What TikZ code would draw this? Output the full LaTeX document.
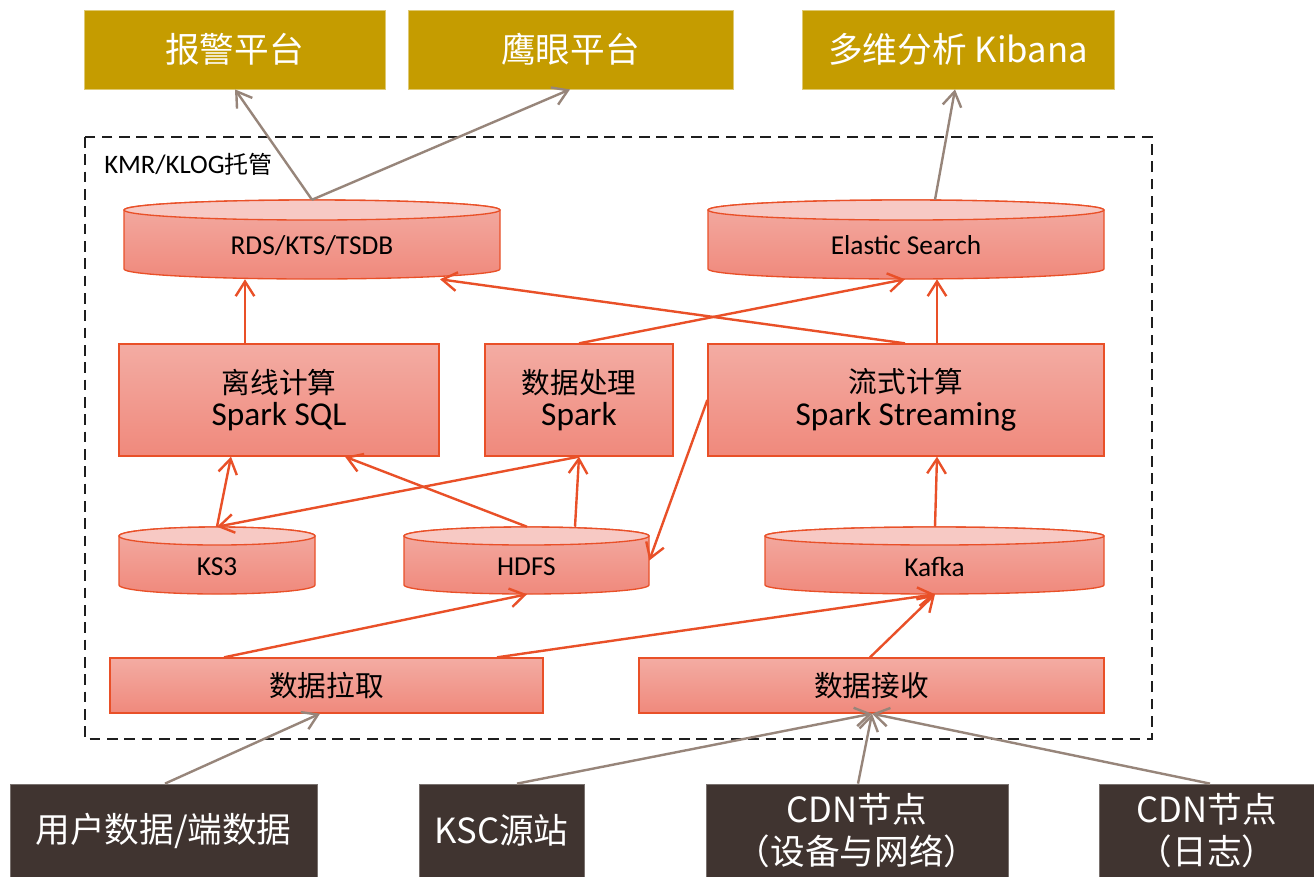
\documentclass[tikz,border=0pt]{standalone}
\usepackage{fontspec}
\setmainfont{Carlito}
\newfontfamily\cjk{Noto Sans CJK SC}
\usetikzlibrary{arrows.meta}
\definecolor{gold}{RGB}{197,156,0}
\definecolor{darkb}{RGB}{64,52,48}
\definecolor{redl}{RGB}{233,80,40}
\definecolor{grayl}{RGB}{151,133,122}
\definecolor{fillA}{RGB}{243,172,163}
\definecolor{fillB}{RGB}{240,137,124}
\definecolor{topface}{RGB}{247,201,196}
\definecolor{dashc}{RGB}{30,30,30}
\newcommand\cjkm{\cjk\fontsize{21.5}{24.5}\selectfont}
\newcommand\placebox[7]{%
  \pgfmathsetmacro\bw{(#5-#3)*0.75}%
  \pgfmathsetmacro\bh{(#6-#4)*0.75}%
  \pgfmathsetmacro\bcx{(#3+#5)/2}%
  \pgfmathsetmacro\bcy{(#4+#6)/2}%
  \node[#1, minimum width=\bw pt, minimum height=\bh pt] (#2) at (\bcx,\bcy) {#7};%
}
\newcommand\dbcyl[7]{%
  \pgfmathsetmacro\crx{(#4-#2)/2*0.75}%
  \pgfmathsetmacro\cry{#6*0.75}%
  \pgfmathsetmacro\ccx{(#2+#4)/2}%
  \pgfmathsetmacro\cyt{#3+#6}%
  \pgfmathsetmacro\cyb{#5-#6}%
  \pgfmathsetmacro\cw{(#4-#2)*0.75}%
  \pgfmathsetmacro\ch{(#5-#3)*0.75}%
  \pgfmathsetmacro\cmy{(#3+#5)/2}%
  \path[cylbody] (#2,\cyt) -- (#2,\cyb) arc[start angle=180,end angle=360,x radius=\crx pt,y radius=\cry pt] -- (#4,\cyt) arc[start angle=0,end angle=180,x radius=\crx pt,y radius=\cry pt] -- cycle;
  \path[cyltop] (\ccx,\cyt) ellipse[x radius=\crx pt,y radius=\cry pt];
  \node[inner sep=0, minimum width=\cw pt, minimum height=\ch pt] (#1) at (\ccx,\cmy) {};
  \node[cyllabel] (#1-l) at (\ccx,\cmy+6) {#7};
}
\tikzset{
  goldbox/.style={rectangle, fill=gold, draw=gold!55!white, line width=0.6pt, inner sep=0, text=white, align=center, font=\cjk\fontsize{26}{30}\selectfont},
  darkbox/.style={rectangle, fill=darkb, draw=darkb!70!white, line width=0.6pt, inner sep=0, text=white, align=center, font=\cjk\fontsize{26}{32}\selectfont},
  procbox/.style={rectangle, top color=fillA, bottom color=fillB, draw=redl, line width=1pt, inner sep=0, align=center, text=black, font=\fontsize{25}{24.5}\selectfont},
  cylbody/.style={top color=fillA, bottom color=fillB, draw=redl, line width=1pt},
  cyltop/.style={fill=topface, draw=redl, line width=1pt},
  cyllabel/.style={inner sep=0, text=black, font=\fontsize{20.5}{24}\selectfont},
  redarrow/.style={draw=redl, line width=1.8pt, -{Straight Barb[length=11pt,width=14pt]}},
  grayarrow/.style={draw=grayl, line width=1.8pt, -{Straight Barb[length=11pt,width=14pt]}},
  hostframe/.style={draw=dashc, line width=2.1pt, dash pattern=on 8pt off 5pt},
}
\begin{document}
\begin{tikzpicture}[x=0.75pt,y=-0.75pt]
\useasboundingbox (0,0) rectangle (1314,876);
\fill[white] (0,0) rectangle (1314,876);

% top platforms
\placebox{goldbox}{g1}{84}{10}{385}{89}{报警平台}
\placebox{goldbox}{g2}{408}{10}{733}{89}{鹰眼平台}
\placebox{goldbox}{g3}{802}{10}{1114}{89}{多维分析 Kibana}

% hosting frame
\draw[hostframe] (85,137) rectangle (1152,739);
\node[anchor=west, inner sep=0, font=\fontsize{20}{22}\selectfont] (kmr) at (104,164) {KMR/KLOG{\cjk\fontsize{18}{20}\selectfont 托管}};

% storage
\dbcyl{rds}{124}{200}{500}{279}{10}{RDS/KTS/TSDB}
\dbcyl{es}{708}{200}{1104}{279}{10}{Elastic Search}
\dbcyl{ks3}{119}{527}{315}{594}{9}{KS3}
\dbcyl{hdfs}{404}{527}{649}{594}{9}{HDFS}
\dbcyl{kafka}{765}{527}{1104}{594}{9}{Kafka}

% processing
\placebox{procbox}{off}{119}{344}{439}{456}{{\cjkm 离线计算}\\Spark SQL}
\placebox{procbox}{proc}{485}{344}{673}{456}{{\cjkm 数据处理}\\Spark}
\placebox{procbox}{stream}{708}{344}{1104}{456}{{\cjkm 流式计算}\\Spark Streaming}
\placebox{procbox}{pull}{110}{658}{543}{713}{\cjkm 数据拉取}
\placebox{procbox}{recv}{639}{658}{1104}{713}{\cjkm 数据接收}

% sources
\placebox{darkbox}{d1}{10}{784}{317}{877}{用户数据/端数据}
\placebox{darkbox}{d2}{419}{784}{584}{877}{KSC源站}
\placebox{darkbox}{d3}{706}{784}{1008}{877}{CDN节点\\（设备与网络）}
\placebox{darkbox}{d4}{1099}{784}{1315}{877}{CDN节点\\（日志）}

% gray connectors
\draw[grayarrow] (rds.north) -- (235,0 |- g1.south);
\draw[grayarrow] (rds.north) -- (570,0 |- g2.south);
\draw[grayarrow] (935,0 |- es.north) -- (955,0 |- g3.south);
\draw[grayarrow] (165,0 |- d1.north) -- (320,0 |- pull.south);
\draw[grayarrow] (517,0 |- d2.north) -- (872,0 |- recv.south);
\draw[grayarrow] (858,0 |- d3.north) -- (872,0 |- recv.south);
\draw[grayarrow] (1210,0 |- d4.north) -- (872,0 |- recv.south);

% red connectors
\draw[redarrow] (245,0 |- off.north) -- (245,0 |- rds.south);
\draw[redarrow] (905,0 |- stream.north) -- (440,0 |- rds.south);
\draw[redarrow] (proc.north) -- (905,0 |- es.south);
\draw[redarrow] (937,0 |- stream.north) -- (937,0 |- es.south);
\draw[redarrow] (ks3.north) -- (231,0 |- off.south);
\draw[redarrow] (proc.south) -- (ks3.north);
\draw[redarrow] (527,0 |- hdfs.north) -- (345,0 |- off.south);
\draw[redarrow] (575,0 |- hdfs.north) -- (proc.south);
\draw[redarrow] (stream.west) -- (hdfs.east);
\draw[redarrow] (935,0 |- kafka.north) -- (937,0 |- stream.south);
\draw[redarrow] (224,0 |- pull.north) -- (527,0 |- hdfs.south);
\draw[redarrow] (497,0 |- pull.north) -- (935,0 |- kafka.south);
\draw[redarrow] (870,0 |- recv.north) -- (935,0 |- kafka.south);
\end{tikzpicture}
\end{document}
